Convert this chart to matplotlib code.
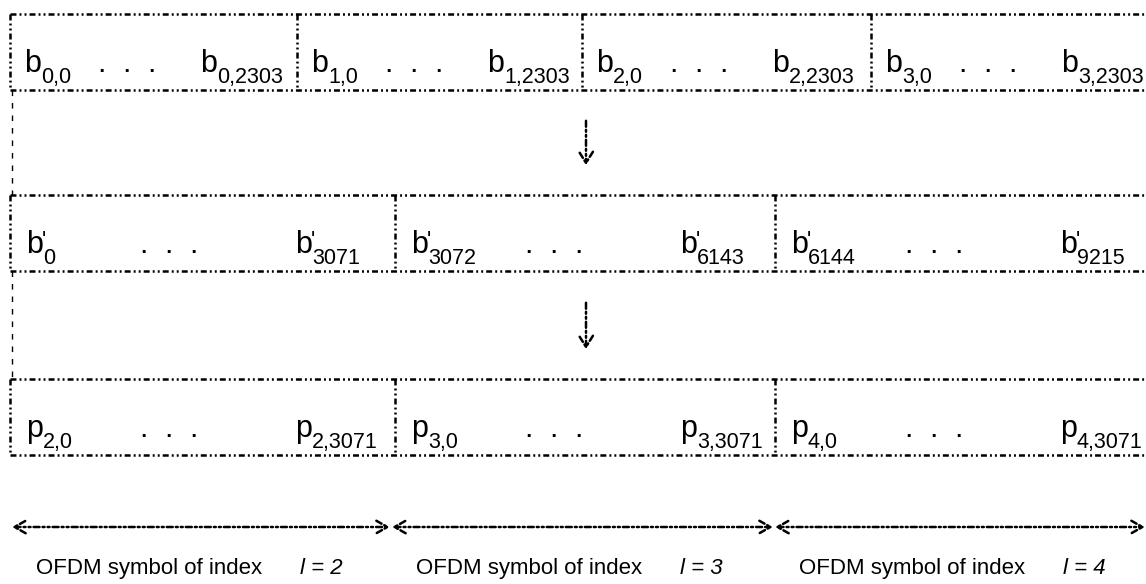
import matplotlib
matplotlib.use('Agg')
import matplotlib.pyplot as plt
from matplotlib.patches import FancyArrowPatch

plt.rcParams['font.family'] = ['Liberation Sans', 'DejaVu Sans']
plt.rcParams['lines.scale_dashes'] = False

# index labels of each block
coded_first = ['0,0', '1,0', '2,0', '3,0']
coded_last = ['0,2303', '1,2303', '2,2303', '3,2303']
inter_first = ['0', '3072', '6144']
inter_last = ['3071', '6143', '9215']
sym_first = ['2,0', '3,0', '4,0']
sym_last = ['2,3071', '3,3071', '4,3071']
ofdm_index = [2, 3, 4]

# layout (pixels)
row1_edges = [10, 297, 582, 871, 1158]
row_edges = [10, 395, 775, 1158]
row_tops = [14, 195, 379]
row_h = 76
arrow_y = 527
arrow_segs = [(12, 390), (392, 773), (775, 1145)]

MAIN = 22
SUB = 15.5
DASHDOT2 = (0, (4.3, 2.2, 1.4, 2.2, 1.4, 2.2))
LW = 1.8

fig = plt.figure(figsize=(11.46, 5.84), dpi=100)
ax = fig.add_axes([0, 0, 1, 1])
ax.set_xlim(0, 1146)
ax.set_ylim(584, 0)
ax.axis('off')


def box_row(edges, top):
    bot = top + row_h
    kw = dict(color='black', lw=LW, linestyle=DASHDOT2, solid_capstyle='butt')
    ax.plot([edges[0], edges[-1]], [top, top], **kw)
    ax.plot([edges[0], edges[-1]], [bot, bot], **kw)
    for x in edges[:-1]:
        ax.plot([x, x], [top, bot], **kw)


def label(x, base, letter, sub, prime=False):
    t = ax.text(x, base, letter, fontsize=MAIN, va='baseline', ha='left')
    ax.annotate(sub, xy=(1.0, base + 11), xycoords=(t, 'data'),
                fontsize=SUB, va='baseline', ha='left')
    if prime:
        ax.annotate("'", xy=(0.92, base - 23), xycoords=(t, 'data'),
                    fontsize=SUB, va='top', ha='left')


def dots(cx, base):
    for k in range(3):
        ax.text(cx + (k - 1) * 25, base, '.', fontsize=MAIN, va='baseline', ha='center')


# row 1: coded bits
top = row_tops[0]
box_row(row1_edges, top)
base = top + row_h - 18
for i in range(len(coded_first)):
    x0 = row1_edges[i]
    label(x0 + 14, base, 'b', coded_first[i])
    dots(x0 + 116, base)
    label(x0 + 190, base, 'b', coded_last[i])

# row 2: interleaved bits
top = row_tops[1]
box_row(row_edges, top)
base = top + row_h - 18
for i in range(len(inter_first)):
    x0 = row_edges[i]
    label(x0 + 16, base, 'b', inter_first[i], prime=True)
    dots(x0 + 158, base)
    label(x0 + 285, base, 'b', inter_last[i], prime=True)

# row 3: OFDM symbols
top = row_tops[2]
box_row(row_edges, top)
base = top + row_h - 18
for i in range(len(sym_first)):
    x0 = row_edges[i]
    label(x0 + 16, base, 'p', sym_first[i])
    dots(x0 + 158, base)
    label(x0 + 285, base, 'p', sym_last[i])

# left connectors
for y0, y1 in [(row_tops[0] + row_h, row_tops[1]), (row_tops[1] + row_h, row_tops[2])]:
    ax.plot([12, 12], [y0, y1], color='black', lw=1, linestyle=(0, (4, 5)))

# down arrows
for y0, y1 in [(118, 168), (300, 352)]:
    ax.add_patch(FancyArrowPatch((586, y0), (586, y1),
                                 arrowstyle='->,head_length=8,head_width=5',
                                 mutation_scale=1, color='black', lw=LW,
                                 linestyle=DASHDOT2))

# symbol extent arrows and captions
for (xa, xb), idx in zip(arrow_segs, ofdm_index):
    ax.add_patch(FancyArrowPatch((xa, arrow_y), (xb, arrow_y),
                                 arrowstyle='<->,head_length=8,head_width=4.5',
                                 mutation_scale=1, color='black', lw=LW,
                                 linestyle=DASHDOT2, shrinkA=0, shrinkB=0))
    ax.text(xa + 24, 574, 'OFDM symbol of index', fontsize=16, va='baseline', ha='left')
    ax.text(xa + 288, 574, 'l = %d' % idx, fontsize=16, va='baseline', ha='left',
            style='italic')

fig.savefig('out.png', dpi=100)
